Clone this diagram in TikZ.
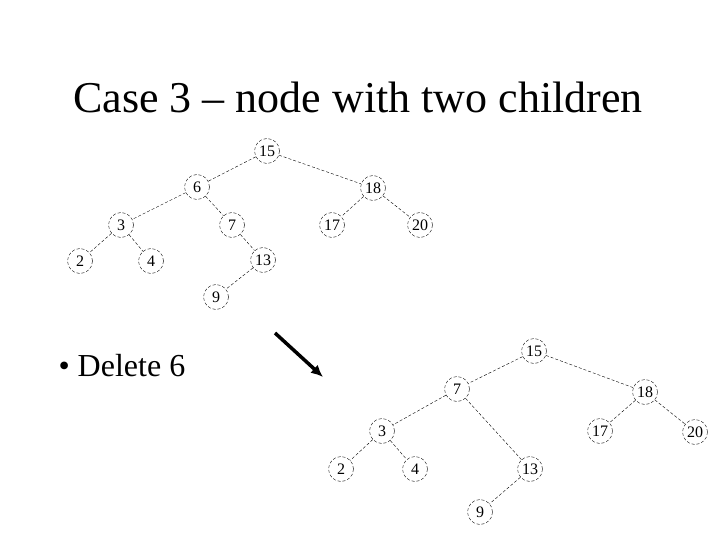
\documentclass[tikz,border=0pt]{standalone}
\usepackage{fontspec}
\setmainfont{Liberation Serif}
\usetikzlibrary{arrows.meta}
\begin{document}
\begin{tikzpicture}[x=1pt,y=-1pt,thin,>=latex]
  \tikzstyle{key}=[draw,circle,densely dashed,minimum size=25pt,inner sep=0pt,font=\fontsize{16}{16}\selectfont]
  \tikzstyle{edge}=[densely dashed]
  \useasboundingbox (0,0) rectangle (720,540);
  \node[font=\fontsize{44}{44}\selectfont] (title) at (358,97) {Case 3 -- node with two children};
  \node[font=\fontsize{32}{32}\selectfont,anchor=west] (item) at (55,366) {\textbullet\ Delete 6};
  % before
  \node[key] (a15) at (267,151) {15};
  \node[key] (a6) at (197,187) {6};
  \node[key] (a18) at (373,188) {18};
  \node[key] (a3) at (121,225) {3};
  \node[key] (a7) at (232,225) {7};
  \node[key] (a17) at (332,225) {17};
  \node[key] (a20) at (420,225) {20};
  \node[key] (a2) at (80,261) {2};
  \node[key] (a4) at (151,261) {4};
  \node[key] (a13) at (263,260) {13};
  \node[key] (a9) at (216,297) {9};
  \foreach \p/\c in {15/6,15/18,6/3,6/7,18/17,18/20,3/2,3/4,7/13,13/9}
    \draw[edge] (a\p) -- (a\c);
  % after
  \node[key] (b15) at (534,351) {15};
  \node[key] (b7) at (457,389) {7};
  \node[key] (b18) at (645,392) {18};
  \node[key] (b3) at (382,431) {3};
  \node[key] (b17) at (600,431) {17};
  \node[key] (b20) at (695,432) {20};
  \node[key] (b2) at (341,469) {2};
  \node[key] (b4) at (415,469) {4};
  \node[key] (b13) at (530,469) {13};
  \node[key] (b9) at (480,512) {9};
  \foreach \p/\c in {15/7,15/18,7/3,7/13,18/17,18/20,3/2,3/4,13/9}
    \draw[edge] (b\p) -- (b\c);
  \coordinate (from) at (275,333);
  \coordinate (to) at (323,377);
  \draw[-{Latex[length=12pt,width=11pt]},line width=3.5pt] (from) -- (to);
\end{tikzpicture}
\end{document}
